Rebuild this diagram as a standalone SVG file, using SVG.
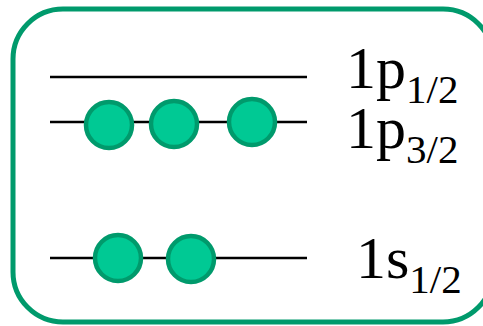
<svg xmlns="http://www.w3.org/2000/svg" width="483" height="326" viewBox="0 0 483 326">
<style>
.lvl{stroke:#000;stroke-width:2.5;fill:none}
.e{fill:#00c994;stroke:#009a6c;stroke-width:4.5}
.t{font-family:"Liberation Serif","Times New Roman",serif;font-size:60px;fill:#000}
.s{font-size:41px}
</style>
<rect x="13" y="9" width="480" height="313" rx="50" ry="50" fill="#fff" stroke="#009a6c" stroke-width="5"/>
<g id="connectors">
<line class="lvl" x1="50" y1="77" x2="307" y2="77"/>
<line class="lvl" x1="50" y1="122" x2="307" y2="122"/>
<line class="lvl" x1="50" y1="258" x2="307" y2="258"/>
</g>
<g id="e1"><circle class="e" cx="109" cy="125" r="23"/></g>
<g id="e2"><circle class="e" cx="174" cy="124" r="23"/></g>
<g id="e3"><circle class="e" cx="252" cy="122" r="23"/></g>
<g id="e4"><circle class="e" cx="118" cy="258" r="23"/></g>
<g id="e5"><circle class="e" cx="191" cy="259" r="23"/></g>
<g id="label-1p12"><text class="t" x="346" y="88">1p<tspan class="s" dy="15">1/2</tspan></text></g>
<g id="label-1p32"><text class="t" x="346" y="148">1p<tspan class="s" dy="15">3/2</tspan></text></g>
<g id="label-1s12"><text class="t" x="356" y="278">1s<tspan class="s" dy="15">1/2</tspan></text></g>
</svg>
